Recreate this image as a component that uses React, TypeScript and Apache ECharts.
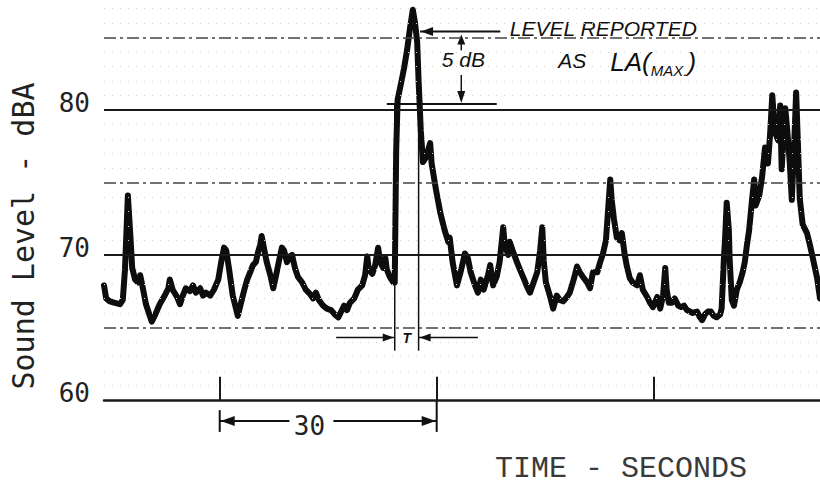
import React, { useEffect, useRef } from "react";
import * as echarts from "echarts";

// Sound level trace (seconds, dBA)
const quietBefore: [number, number][] = [
  [0, 67.9], [0.3, 67.0], [0.8, 66.8], [1.5, 66.7], [2.2, 66.6], [2.6, 66.9], [2.9, 69.0], [3.2, 72.8], [3.3, 74.1], [3.6, 71.7],
  [3.9, 69.1], [4.3, 68.3], [4.7, 68.1], [5.0, 68.6], [5.3, 67.9], [5.8, 66.6], [6.4, 65.7], [6.6, 65.4], [7.1, 65.9], [7.7, 66.6],
  [8.4, 67.2], [8.9, 67.7], [9.1, 68.3], [9.5, 67.6], [10.1, 67.1], [10.5, 66.6], [10.9, 67.2], [11.3, 67.7], [11.9, 67.5], [12.3, 67.9],
  [12.7, 67.4], [13.3, 67.7], [13.7, 67.2], [14.1, 67.4], [14.7, 67.2], [15.2, 67.6], [15.8, 68.3], [16.2, 69.5], [16.6, 70.5], [16.9, 70.3],
  [17.3, 69.0], [17.8, 67.2], [18.3, 66.2], [18.5, 65.8], [18.9, 66.6], [19.4, 67.6], [19.8, 68.3], [20.2, 68.8], [20.6, 69.3], [21.0, 69.5],
  [21.3, 70.2], [21.6, 70.7], [21.8, 71.3], [22.1, 70.5], [22.5, 69.5], [23.0, 68.6], [23.4, 67.7], [23.8, 68.6], [24.2, 69.6], [24.6, 70.5],
  [24.9, 70.3], [25.3, 69.5], [25.7, 69.9], [26.0, 70.0], [26.4, 69.1], [26.8, 68.5], [27.4, 68.1], [27.9, 67.6], [28.5, 67.3], [28.9, 67.0],
  [29.3, 67.4], [29.7, 66.9], [30.3, 66.5], [30.8, 66.3], [31.4, 66.2], [31.9, 65.9], [32.4, 65.7], [32.8, 66.1], [33.2, 66.5], [33.6, 66.2],
  [34.0, 66.7], [34.6, 67.0], [35.1, 67.6], [35.7, 67.9], [36.1, 68.6], [36.4, 69.9], [36.6, 69.0], [37.1, 68.7], [37.5, 69.3], [37.9, 70.5],
  [38.2, 69.5], [38.6, 69.1], [38.9, 69.8], [39.1, 69.0], [39.5, 68.5], [40.0, 68.1],
];
const loudEvent: [number, number][] = [
  [40.2, 68.1], [40.4, 77.2], [40.6, 80.7], [41.1, 81.9], [41.5, 82.9], [41.9, 84.1], [42.3, 85.6], [42.7, 86.9], [43.0, 86.0], [43.3, 84.7],
  [43.5, 82.0], [43.8, 78.6], [44.1, 76.4], [44.5, 76.7], [44.8, 77.2], [45.1, 77.7], [45.3, 76.3], [45.9, 74.5], [46.5, 72.9], [47.1, 71.7],
  [47.6, 70.9], [47.8, 71.2], [48.2, 69.5], [48.8, 67.9], [49.4, 69.0], [49.9, 70.1], [50.3, 69.8], [50.7, 68.8], [51.3, 67.9],
];
const quietAfter: [number, number][] = [
  [51.7, 67.4], [52.1, 68.3], [52.5, 67.6], [53.1, 68.6], [53.4, 69.3], [53.8, 67.9], [54.3, 68.5], [54.7, 69.5], [55.2, 71.9], [55.4, 70.7],
  [55.9, 70.0], [56.1, 70.9], [56.5, 70.3], [57.1, 69.5], [57.5, 69.0], [58.1, 68.3], [58.5, 67.8], [58.9, 67.4], [59.4, 68.1], [59.9, 68.8],
  [60.3, 70.3], [60.6, 71.9], [60.8, 69.6], [61.1, 68.1], [61.7, 67.1], [62.1, 66.3], [62.6, 67.2], [63.0, 66.9], [63.5, 66.8], [64.0, 67.1],
  [64.4, 67.4], [65.0, 68.4], [65.4, 69.2], [65.8, 68.8], [66.2, 68.5], [66.8, 68.1], [67.2, 67.7], [67.6, 68.8], [68.2, 68.8], [68.6, 69.5],
  [69.0, 70.1], [69.4, 71.0], [69.7, 73.1], [70.0, 75.2], [70.2, 73.8], [70.5, 72.5], [70.9, 71.2], [71.3, 71.0], [71.6, 71.5], [72.0, 70.0],
  [72.3, 69.2], [72.7, 68.4], [73.1, 68.1], [73.7, 67.9], [74.1, 68.6], [74.5, 67.6], [75.1, 67.1], [75.5, 66.7], [75.9, 66.4], [76.5, 67.1],
  [76.9, 66.3], [77.3, 67.2], [77.6, 69.1], [77.8, 67.6], [78.1, 66.7], [78.5, 66.7], [78.9, 67.0], [79.4, 66.5], [79.8, 66.4], [80.2, 66.5],
  [80.6, 66.2], [81.0, 66.1], [81.4, 66.0], [82.0, 66.1], [82.4, 65.7], [82.7, 65.5], [83.1, 65.9], [83.5, 66.1], [83.9, 66.1], [84.3, 65.8],
  [84.7, 65.7], [85.2, 65.9], [85.4, 66.3],
];
const secondEvent: [number, number][] = [
  [85.7, 69.6], [85.9, 71.4], [86.1, 73.6], [86.4, 71.7], [86.5, 69.8], [86.8, 66.9], [87.1, 66.5], [87.5, 67.6], [87.9, 68.1], [88.3, 68.8],
  [88.6, 69.5], [88.9, 70.7], [89.2, 71.7], [89.6, 73.8], [89.9, 75.2], [90.1, 73.4], [90.6, 74.1], [91.0, 75.4], [91.4, 77.4], [91.8, 76.3],
  [92.1, 78.3], [92.4, 81.0], [92.6, 79.6], [92.9, 78.3], [93.2, 77.9], [93.5, 80.3], [93.7, 75.9], [94.0, 78.6], [94.2, 80.1], [94.4, 79.0],
  [94.8, 76.5], [95.1, 73.8], [95.4, 77.2], [95.7, 81.2], [96.0, 76.9], [96.2, 73.9], [96.6, 72.1], [97.2, 71.5], [97.6, 70.7], [98.0, 69.8],
  [98.6, 68.4], [99.0, 67.0],
];

// Axes
const timeRange = [0, 99];
const levelRange = [60, 87.5];
const levelLabels = [60, 70, 80];
const majorLines = [70, 80];
const dashedLines = [65, 75, 85];
const faintLines = [61, 62, 63, 64, 66, 67, 68, 69, 71, 72, 73, 74, 76, 77, 78, 79, 81, 82, 83, 84, 86, 87];
const timeTicks = [16, 46, 76];

// Annotations (data units)
const spanSeconds = [16, 46];
const spanLabel = "30";
const lmaxLevel = 85.4;
const lmaxMinus5 = 80.4;
const durationMarks = [40.2, 43.5];

export default function App() {
  const ref = useRef<HTMLDivElement>(null);

  useEffect(() => {
    if (!ref.current) return;
    const chart = echarts.init(ref.current, null, { renderer: "svg" });
    const trace = [...quietBefore, ...loudEvent, ...quietAfter, ...secondEvent];

    const gridMarks: any[] = [];
    faintLines.forEach((v) =>
      gridMarks.push({ yAxis: v, lineStyle: { color: "#d2d2d2", width: 1, type: [1, 7] } })
    );
    dashedLines.forEach((v) =>
      gridMarks.push({ yAxis: v, lineStyle: { color: "#444", width: 1.5, type: [12, 4, 3, 4] } })
    );
    majorLines.forEach((v) =>
      gridMarks.push({ yAxis: v, lineStyle: { color: "#1a1a1a", width: 2, type: "solid" } })
    );
    timeTicks.forEach((t) =>
      gridMarks.push([
        { coord: [t, 60], lineStyle: { color: "#1a1a1a", width: 2, type: "solid" } },
        { coord: [t, 61.6] },
      ])
    );

    chart.setOption({
      animation: false,
      backgroundColor: "#fff",
      grid: { left: 104, right: 0, top: 1, bottom: 86 },
      xAxis: {
        type: "value",
        min: timeRange[0],
        max: timeRange[1],
        axisLine: { show: true, lineStyle: { color: "#1a1a1a", width: 2.5 } },
        axisTick: { show: false },
        axisLabel: { show: false },
        splitLine: { show: false },
      },
      yAxis: {
        type: "value",
        min: levelRange[0],
        max: levelRange[1],
        interval: 10,
        axisLine: { show: false },
        axisTick: { show: false },
        splitLine: { show: false },
        axisLabel: {
          margin: 14,
          fontFamily: "DejaVu Sans Mono",
          fontSize: 26,
          color: "#222",
          verticalAlign: "bottom",
          lineHeight: 14,
          formatter: (v: number) => (levelLabels.includes(v) ? String(v) : ""),
        },
      },
      series: [
        {
          type: "line",
          data: [[0, 60]],
          showSymbol: false,
          lineStyle: { width: 0 },
          silent: true,
          z: 1,
          markLine: {
            silent: true,
            symbol: ["none", "none"],
            label: { show: false },
            data: gridMarks,
          },
        },
        {
          type: "line",
          data: trace,
          showSymbol: false,
          z: 3,
          lineStyle: { color: "#0d0d0d", width: 6, join: "round", cap: "round" },
        },
      ],
    });

    const p = (t: number, v: number) => chart.convertToPixel({ gridIndex: 0 }, [t, v]) as number[];
    const lineEl = (a: number[], b: number[], w = 2) => ({
      type: "line",
      shape: { x1: a[0], y1: a[1], x2: b[0], y2: b[1] },
      style: { stroke: "#111", lineWidth: w },
      silent: true,
    });
    const head = (tip: number[], dx: number, dy: number, len: number, half: number) => {
      const bx = tip[0] - dx * len;
      const by = tip[1] - dy * len;
      return {
        type: "polygon",
        shape: {
          points: [
            [tip[0], tip[1]],
            [bx - dy * half, by + dx * half],
            [bx + dy * half, by - dx * half],
          ],
        },
        style: { fill: "#111" },
        silent: true,
      };
    };
    const hand = "Liberation Sans";

    const yDim = 58.55;
    const L = p(spanSeconds[0], yDim);
    const R = p(spanSeconds[1], yDim);
    const textPos = p(28.4, yDim);
    const topL = p(43.7, lmaxLevel);
    const topR = p(54.8, lmaxLevel);
    const lowL = p(39.1, lmaxMinus5);
    const lowR = p(54.3, lmaxMinus5);
    const vTop = p(49.4, lmaxLevel);
    const vTopEnd = p(49.4, 84.1);
    const vLowStart = p(49.4, 82.4);
    const vLow = p(49.4, lmaxMinus5);
    const tA = durationMarks.map((t) => [p(t, lmaxMinus5), p(t, 63.4)]);
    const yT = 64.3;
    const tArrowL = [p(32.1, yT), p(durationMarks[0], yT)];
    const tArrowR = [p(51.7, yT), p(durationMarks[1], yT)];
    const tLbl = p(41.85, yT);
    const fiveLbl = p(46.7, 83.5);
    const levelLbl = p(56.1, 85.6);
    const asLbl = p(62.8, 83.4);
    const laLbl = p(70.0, 83.3);

    chart.setOption({
      graphic: [
        // 30 s dimension
        lineEl(p(spanSeconds[0], 59.3), p(spanSeconds[0], 57.8), 2),
        lineEl(p(spanSeconds[1], 60), p(spanSeconds[1], 57.8), 2),
        lineEl(L, [textPos[0] - 20, L[1]], 2),
        lineEl([textPos[0] + 24, R[1]], R, 2),
        head([L[0] + 1, L[1]], -1, 0, 14, 5),
        head([R[0] - 1, R[1]], 1, 0, 14, 5),
        {
          type: "text",
          x: textPos[0],
          y: textPos[1] + 5,
          style: {
            text: spanLabel,
            fontFamily: "DejaVu Sans Mono",
            fontSize: 26,
            fill: "#222",
            align: "center",
            verticalAlign: "middle",
          },
        },
        // Lmax reference lines
        lineEl(topL, topR, 2),
        head([topL[0] + 1, topL[1]], -1, 0, 12, 4.5),
        lineEl(lowL, lowR, 2),
        lineEl([vTop[0], vTop[1] + 8], vTopEnd, 1.5),
        head([vTop[0], vTop[1] + 3], 0, -1, 10, 4),
        lineEl(vLowStart, [vLow[0], vLow[1] - 8], 1.5),
        head([vLow[0], vLow[1] - 1], 0, 1, 12, 4),
        // duration T
        lineEl(tA[0][0], tA[0][1], 1.5),
        lineEl(tA[1][0], tA[1][1], 1.5),
        lineEl(tArrowL[0], tArrowL[1], 1.5),
        head([tArrowL[1][0] - 1, tArrowL[1][1]], 1, 0, 11, 4),
        lineEl(tArrowR[0], tArrowR[1], 1.5),
        head([tArrowR[1][0] + 1, tArrowR[1][1]], -1, 0, 11, 4),
        {
          type: "text",
          x: tLbl[0],
          y: tLbl[1],
          style: {
            text: "T",
            fontFamily: hand,
            fontStyle: "italic",
            fontWeight: "bold",
            fontSize: 14,
            fill: "#111",
            align: "center",
            verticalAlign: "middle",
          },
        },
        {
          type: "text",
          x: fiveLbl[0],
          y: fiveLbl[1],
          style: {
            text: "5 dB",
            fontFamily: hand,
            fontStyle: "italic",
            fontSize: 21,
            fill: "#111",
            align: "left",
            verticalAlign: "middle",
          },
        },
        {
          type: "text",
          x: levelLbl[0],
          y: levelLbl[1],
          style: {
            text: "LEVEL REPORTED",
            fontFamily: hand,
            fontStyle: "italic",
            fontSize: 21,
            fill: "#111",
            align: "left",
            verticalAlign: "middle",
          },
        },
        {
          type: "text",
          x: asLbl[0],
          y: asLbl[1],
          style: {
            text: "AS",
            fontFamily: hand,
            fontStyle: "italic",
            fontSize: 21,
            fill: "#111",
            align: "left",
            verticalAlign: "middle",
          },
        },
        {
          type: "text",
          x: laLbl[0],
          y: laLbl[1],
          style: {
            text: "{b|LA(}{s|MAX.}{b|)}",
            align: "left",
            verticalAlign: "middle",
            rich: {
              b: { fontFamily: hand, fontStyle: "italic", fontSize: 26, fill: "#111", lineHeight: 32 },
              s: { fontFamily: hand, fontStyle: "italic", fontSize: 15, fill: "#111", verticalAlign: "bottom", lineHeight: 24 },
            },
          },
        },
        // axis titles
        {
          type: "text",
          x: 23,
          y: 236,
          rotation: Math.PI / 2,
          style: {
            text: "Sound Level - dBA",
            fontFamily: "DejaVu Sans Mono",
            fontSize: 30,
            lineHeight: 30,
            fill: "#222",
            align: "center",
            verticalAlign: "middle",
          },
        },
        {
          type: "text",
          x: 621,
          y: 469,
          style: {
            text: "TIME - SECONDS",
            fontFamily: "Liberation Mono",
            fontSize: 30,
            lineHeight: 30,
            fill: "#3a3a3a",
            align: "center",
            verticalAlign: "middle",
          },
        },
      ],
    });

    return () => chart.dispose();
  }, []);

  return (
    <div
      ref={ref}
      style={{ position: "fixed", left: 0, top: 0, width: 820, height: 486, background: "#fff" }}
    />
  );
}
